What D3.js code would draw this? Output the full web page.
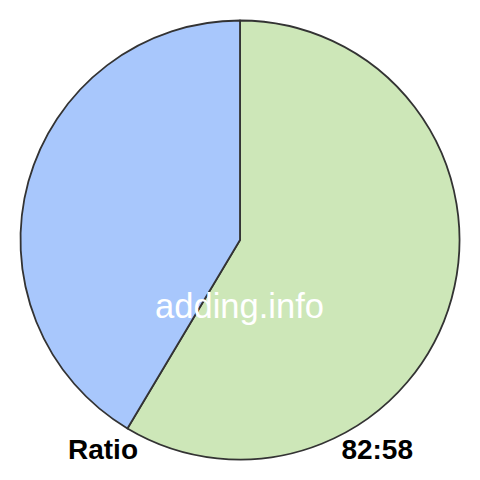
<!DOCTYPE html>
<html><head><meta charset="utf-8">
<script src="https://cdn.jsdelivr.net/npm/d3@7"></script>
<style>body{margin:0;background:#fff}</style>
</head><body>
<script>
const categories = ["A", "B"];
const values = [82, 58];
const colors = ["#cde7b8", "#a8c7fc"];
const W = 480, H = 480, R = 219.5;
const svg = d3.select("body").append("svg").attr("width", W).attr("height", H);
const g = svg.append("g").attr("transform", "translate(240,240)");
const pie = d3.pie().sort(null).value(d => d)(values);
const arc = d3.arc().innerRadius(0).outerRadius(R);
g.selectAll("path").data(pie).join("path")
  .attr("d", arc).attr("fill", (d, i) => colors[i])
  .attr("stroke", "#333").attr("stroke-width", 1.8).attr("stroke-linejoin", "round");
svg.append("text").attr("x", 239.5).attr("y", 318).attr("text-anchor", "middle")
  .attr("font-family", "Liberation Sans, Arial, sans-serif").attr("font-size", 34.5)
  .attr("fill", "#fff").text("adding.info");
svg.append("text").attr("x", 68).attr("y", 459)
  .attr("font-family", "Liberation Sans, Arial, sans-serif").attr("font-size", 28).attr("font-weight", "bold")
  .attr("fill", "#000").text("Ratio");
svg.append("text").attr("x", 413).attr("y", 459).attr("text-anchor", "end")
  .attr("font-family", "Liberation Sans, Arial, sans-serif").attr("font-size", 28).attr("font-weight", "bold")
  .attr("fill", "#000").text(values.join(":"));
</script>
</body></html>
